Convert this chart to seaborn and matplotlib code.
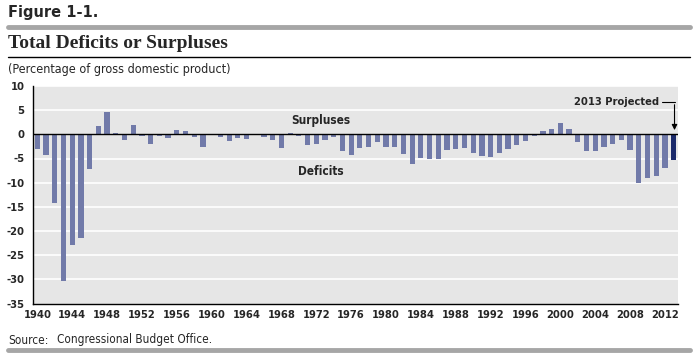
import numpy as np
import pandas as pd
import matplotlib.pyplot as plt
import seaborn as sns

years = list(range(1940, 2014))
deficit = [
    -3.1, -4.3, -14.3, -30.4, -22.8, -21.5, -7.2, 1.7, 4.6, 0.2,
    -1.2, 1.9, -0.3, -1.9, -0.3, -0.8, 0.8, 0.6, -0.6, -2.7,
    0.1, -0.6, -1.4, -0.8, -0.9, -0.2, -0.5, -1.2, -2.8, 0.2,
    -0.3, -2.2, -2.0, -1.2, -0.5, -3.4, -4.2, -2.8, -2.6, -1.6,
    -2.7, -2.6, -4.0, -6.1, -4.8, -5.1, -5.0, -3.2, -3.0, -2.8,
    -3.9, -4.5, -4.7, -3.9, -3.0, -2.2, -1.3, -0.3, 0.6, 1.2,
    2.3, 1.2, -1.6, -3.4, -3.4, -2.6, -2.0, -1.2, -3.2, -10.1,
    -9.0, -8.6, -7.0, -5.3,
]
status = ['Actual'] * 73 + ['Projected']

df = pd.DataFrame({'year': years, 'deficit': deficit, 'status': status})

sns.set_style('white')
plt.rcParams['font.family'] = ['DejaVu Sans']
plt.rcParams['font.stretch'] = 'condensed'

fig = plt.figure(figsize=(6.94, 3.60), dpi=100)
ax = fig.add_axes([33 / 694, 1 - 303.5 / 360, 645 / 694, 217.5 / 360])
ax.set_facecolor('#e6e6e6')

sns.barplot(data=df, x='year', y='deficit', hue='status', native_scale=True,
            dodge=False, width=0.6, palette={'Actual': '#717aa9', 'Projected': '#1b2a6b'},
            legend=False, linewidth=0, saturation=1, ax=ax)

ax.set_xlim(1939.5, 2013.5)
ax.set_ylim(-35, 10)
ax.set_yticks(range(-35, 11, 5))
ax.set_yticklabels([str(v) for v in range(-35, 11, 5)], fontsize=8, fontweight='bold')
for v in range(-30, 11, 5):
    if v != 0:
        ax.axhline(v, color='white', lw=1.2, zorder=0.5)
ax.axhline(0, color='black', lw=1, zorder=3)

ax.set_xticks(range(1940, 2013, 4))
ax.set_xticklabels([str(y) for y in range(1940, 2013, 4)], fontsize=8, fontweight='bold')
ax.set_xticks(np.arange(1943.5, 2013, 4), minor=True)
ax.tick_params(axis='x', which='major', length=0, pad=5)
ax.tick_params(axis='x', which='minor', length=4, width=1, color='black', direction='out')
ax.tick_params(axis='y', which='major', length=3, width=1, color='black', direction='out', pad=3)
ax.set_xlabel('')
ax.set_ylabel('')
for s in ['top', 'right']:
    ax.spines[s].set_visible(False)
for s in ['left', 'bottom']:
    ax.spines[s].set_color('black')
    ax.spines[s].set_linewidth(1)

ax.text(1972.5, 2.9, 'Surpluses', ha='center', va='center', fontsize=8.5, fontweight='bold')
ax.text(1972.5, -7.7, 'Deficits', ha='center', va='center', fontsize=8.5, fontweight='bold')

ax.text(2011.3, 6.6, '2013 Projected', ha='right', va='center', fontsize=8, fontweight='bold')
ax.plot([2011.7, 2013.1], [6.6, 6.6], color='black', lw=0.8, clip_on=False)
ax.annotate('', xy=(2013.1, 0.3), xytext=(2013.1, 6.7),
            arrowprops=dict(arrowstyle='-|>', color='black', lw=0.8, mutation_scale=8))

fig.text(8 / 694, 1 - 13 / 360, 'Figure 1-1.', fontsize=10.5, fontweight='heavy',
         family='DejaVu Sans', stretch='normal', va='center')
fig.add_artist(plt.Line2D([8 / 694, 690 / 694], [1 - 27 / 360] * 2, color='#a6a6a6', lw=3.5))
fig.text(8 / 694, 1 - 43 / 360, 'Total Deficits or Surpluses', fontsize=14, fontweight='bold',
         family='Liberation Serif', va='center')
fig.add_artist(plt.Line2D([8 / 694, 690 / 694], [1 - 57 / 360] * 2, color='black', lw=1))
fig.text(8 / 694, 1 - 70 / 360, '(Percentage of gross domestic product)', fontsize=9, va='center')
fig.text(8 / 694, 1 - 340 / 360, 'Source:', fontsize=8.5, va='center')
fig.text(57 / 694, 1 - 340 / 360, 'Congressional Budget Office.', fontsize=8.5, va='center')
fig.add_artist(plt.Line2D([8 / 694, 690 / 694], [1 - 350 / 360] * 2, color='#a6a6a6', lw=3.5))

fig.savefig('out.png', dpi=100)
